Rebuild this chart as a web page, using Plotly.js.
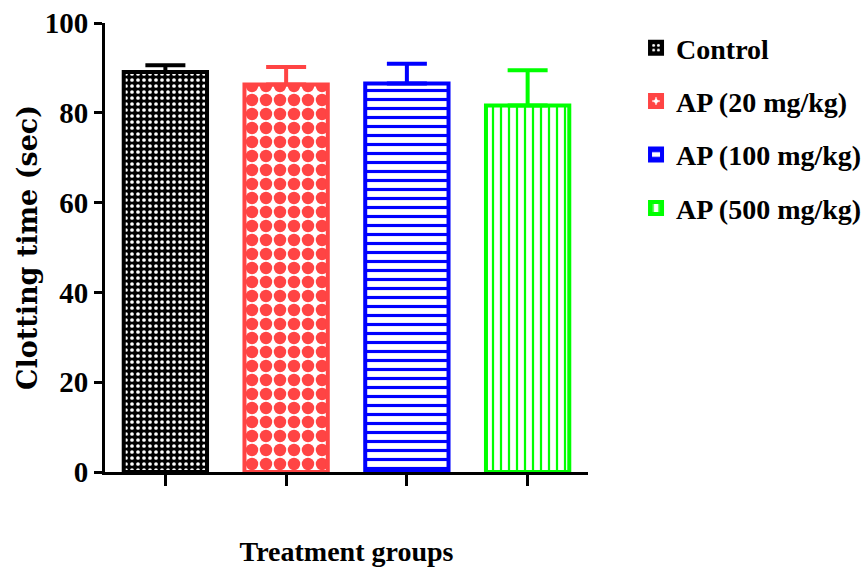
<!DOCTYPE html>
<html>
<head>
<meta charset="utf-8">
<script src="https://cdn.plot.ly/plotly-3.0.1.min.js"></script>
<style>html,body{margin:0;padding:0;background:#fff;}#chart{width:863px;height:574px;}</style>
</head>
<body>
<div id="chart"></div>
<script>
var groups = ["Control", "AP (20 mg/kg)", "AP (100 mg/kg)", "AP (500 mg/kg)"];
var meanValues = [89.1, 86.3, 86.5, 81.6];
var errorValues = [1.5, 3.9, 4.4, 7.9];
var colors = ["#000000", "#FF4444", "#0000FF", "#00FF00"];
var patterns = [
  {shape: ".", fgcolor: "#FFFFFF", bgcolor: "#000000", size: 6, solidity: 0.3},
  {shape: ".", fgcolor: "#FF4444", bgcolor: "#FFFFFF", size: 14, solidity: 0.62},
  {shape: "-", fgcolor: "#0000FF", bgcolor: "#FFFFFF", size: 9, solidity: 0.35},
  {shape: "|", fgcolor: "#00FF00", bgcolor: "#FFFFFF", size: 8, solidity: 0.28}
];

var serif = "Liberation Serif, Times New Roman, serif";
var traces = groups.map(function(g, i) {
  return {
    type: "bar",
    name: g,
    x: [i],
    y: [meanValues[i]],
    width: 0.69,
    legendgroup: "g" + i,
    marker: {
      color: "#FFFFFF",
      line: {color: colors[i], width: 4},
      pattern: patterns[i]
    },
    error_y: {
      type: "data",
      symmetric: false,
      array: [errorValues[i]],
      arrayminus: [0],
      color: colors[i],
      thickness: 4,
      width: 20
    },
    hoverinfo: "skip"
  };
});

var layout = {
  width: 863,
  height: 574,
  margin: {l: 105, r: 275, t: 23, b: 102, autoexpand: false},
  paper_bgcolor: "#FFFFFF",
  plot_bgcolor: "#FFFFFF",
  showlegend: true,
  bargap: 0.3,
  xaxis: {
    range: [-0.5, 3.5],
    tickvals: [0, 1, 2, 3],
    showticklabels: false,
    ticks: "outside",
    ticklen: 11,
    tickwidth: 3,
    tickcolor: "#000",
    showline: true,
    linecolor: "#000",
    linewidth: 3,
    showgrid: false,
    zeroline: false,
    fixedrange: true,
    title: {text: "Treatment groups", font: {family: serif, size: 28, weight: "bold", color: "#000"}, standoff: 57}
  },
  yaxis: {
    range: [0, 100],
    dtick: 20,
    ticks: "outside",
    ticklen: 8,
    tickwidth: 3,
    tickcolor: "#000",
    showline: true,
    linecolor: "#000",
    linewidth: 3,
    showgrid: false,
    zeroline: false,
    fixedrange: true,
    tickfont: {family: serif, size: 29, weight: "bold", color: "#000"},
    title: {text: "Clotting time (sec)", font: {family: "DejaVu Serif, serif", size: 27, weight: "bold", color: "#000"}, standoff: 0}
  },
  legend: {
    xref: "container",
    x: 0.737,
    xanchor: "left",
    y: 1.0,
    yanchor: "top",
    traceorder: "grouped",
    tracegroupgap: 14,
    font: {family: serif, size: 28, weight: "bold", color: "#000"},
    bgcolor: "rgba(0,0,0,0)"
  }
};

Plotly.newPlot("chart", traces, layout, {displayModeBar: false, staticPlot: true});
</script>
</body>
</html>
